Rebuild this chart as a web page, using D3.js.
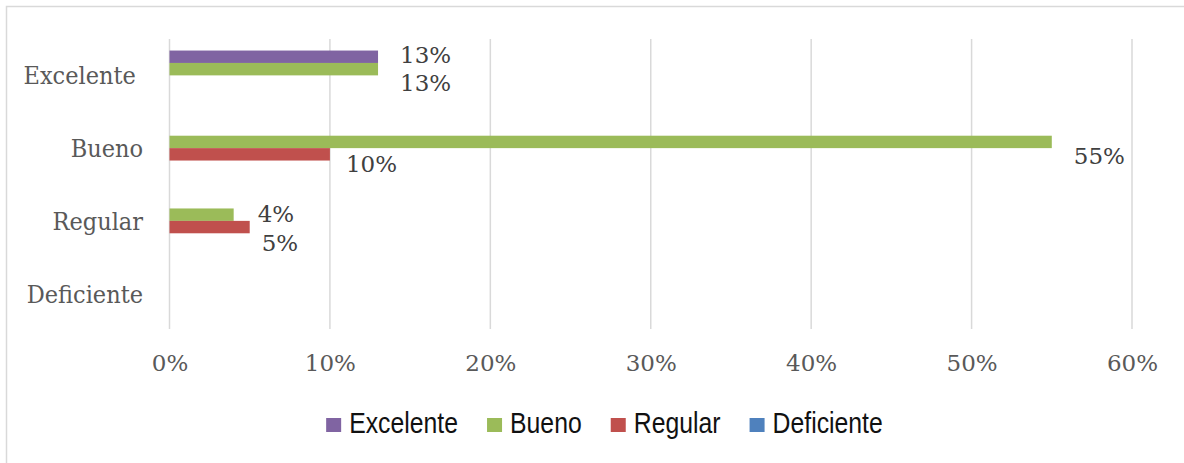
<!DOCTYPE html>
<html><head><meta charset="utf-8">
<script src="https://cdn.jsdelivr.net/npm/d3@7"></script>
<style>html,body{margin:0;padding:0;background:#fff;}svg{display:block;}</style>
</head><body>
<svg id="chart" width="1184" height="463"></svg>
<script>
const categories = ["Excelente", "Bueno", "Regular", "Deficiente"];
const seriesNames = ["Excelente", "Bueno", "Regular", "Deficiente"];
const excelenteValues = [13, 0, 0, 0];
const buenoValues = [13, 55, 4, 0];
const regularValues = [0, 10, 5, 0];
const deficienteValues = [0, 0, 0, 0];
const xTickValues = [0, 10, 20, 30, 40, 50, 60];
const seriesColors = ["#8064A2", "#9BBB59", "#C0504D", "#4F81BD"];

const seriesValues = [excelenteValues, buenoValues, regularValues, deficienteValues];
// manual label nudges (as dragged in the original): [series, category] -> [dx, dy]
const labelNudge = {
  "0-0": [22, 6], "1-0": [22, 22], "1-1": [22, 22],
  "2-1": [16, 18], "1-2": [24, 7.5], "2-2": [12, 24]
};

const svg = d3.select("#chart");
const serif = "'DejaVu Serif', serif";
const serifCond = "'DejaVu Serif Condensed', 'DejaVu Serif', serif";

svg.append("rect").attr("x", 6.5).attr("y", 6.5).attr("width", 1196).attr("height", 470)
  .attr("fill", "#fff").attr("stroke", "#d9d9d9").attr("stroke-width", 1.5);

const x = d3.scaleLinear().domain([0, 60]).range([169.5, 1132]);
const y0 = d3.scaleBand().domain(categories).range([39, 330]);
const y1 = d3.scaleBand().domain(seriesNames).range([0, y0.bandwidth()]).paddingOuter(0.93);

// gridlines
svg.append("g").selectAll("line").data(xTickValues).join("line")
  .attr("x1", d => x(d)).attr("x2", d => x(d))
  .attr("y1", 39).attr("y2", 329)
  .attr("stroke", "#d9d9d9").attr("stroke-width", 1.5);

// x tick labels via axis
const xAxis = d3.axisBottom(x).tickValues(xTickValues).tickFormat(d => d + "%").tickSize(0).tickPadding(0);
const gx = svg.append("g").attr("transform", "translate(0,354)").call(xAxis);
gx.select(".domain").remove();
gx.selectAll("text").attr("font-family", serif).attr("font-size", 23).attr("fill", "#595959").attr("dy", "0.74em");

// y category labels via axis
const yAxis = d3.axisLeft(y0).tickSize(0).tickPadding(0).tickFormat(d => d === "Excelente" ? d + "\u00A0" : d);
const gy = svg.append("g").attr("transform", "translate(143,0)").call(yAxis);
gy.select(".domain").remove();
gy.selectAll("text").attr("font-family", serifCond).attr("font-size", 25).attr("fill", "#595959").attr("dy", "0.36em");

// bars
const flat = [];
seriesValues.forEach((vals, si) => vals.forEach((v, ci) => flat.push({si, ci, v})));
const visible = flat.filter(d => d.v > 0);
svg.append("g").selectAll("rect").data(visible).join("rect")
  .attr("x", x(0))
  .attr("y", d => y0(categories[d.ci]) + y1(seriesNames[d.si]))
  .attr("width", d => x(d.v) - x(0))
  .attr("height", y1.bandwidth())
  .attr("fill", d => seriesColors[d.si]);

// data labels
svg.append("g").selectAll("text").data(visible).join("text")
  .attr("x", d => x(d.v) + labelNudge[d.si + "-" + d.ci][0])
  .attr("y", d => y0(categories[d.ci]) + y1(seriesNames[d.si]) + y1.bandwidth() / 2 + labelNudge[d.si + "-" + d.ci][1])
  .attr("font-family", serif).attr("font-size", 23).attr("fill", "#404040")
  .text(d => d.v + "%");

// legend
const leg = svg.append("g");
const items = leg.selectAll("g").data(seriesNames).join("g");
items.append("rect").attr("width", 15).attr("height", 14).attr("y", 418).attr("fill", (d, i) => seriesColors[i]);
const lt = items.append("text").attr("font-family", "'Liberation Sans', Arial, sans-serif").attr("font-size", 29)
  .attr("fill", "#111").text(d => d);
const sx = 0.855;
const widths = [];
lt.each(function() { widths.push(this.getComputedTextLength() * sx); });
const itemW = widths.map(w => 15 + 8 + w);
const gap = 29;
const total = d3.sum(itemW) + gap * (itemW.length - 1);
let cx = 604.5 - total / 2;
items.each(function(d, i) {
  const g = d3.select(this);
  g.select("rect").attr("x", cx);
  g.select("text").attr("transform", `translate(${cx + 23},433) scale(${sx},1)`);
  cx += itemW[i] + gap;
});
</script>
</body></html>
